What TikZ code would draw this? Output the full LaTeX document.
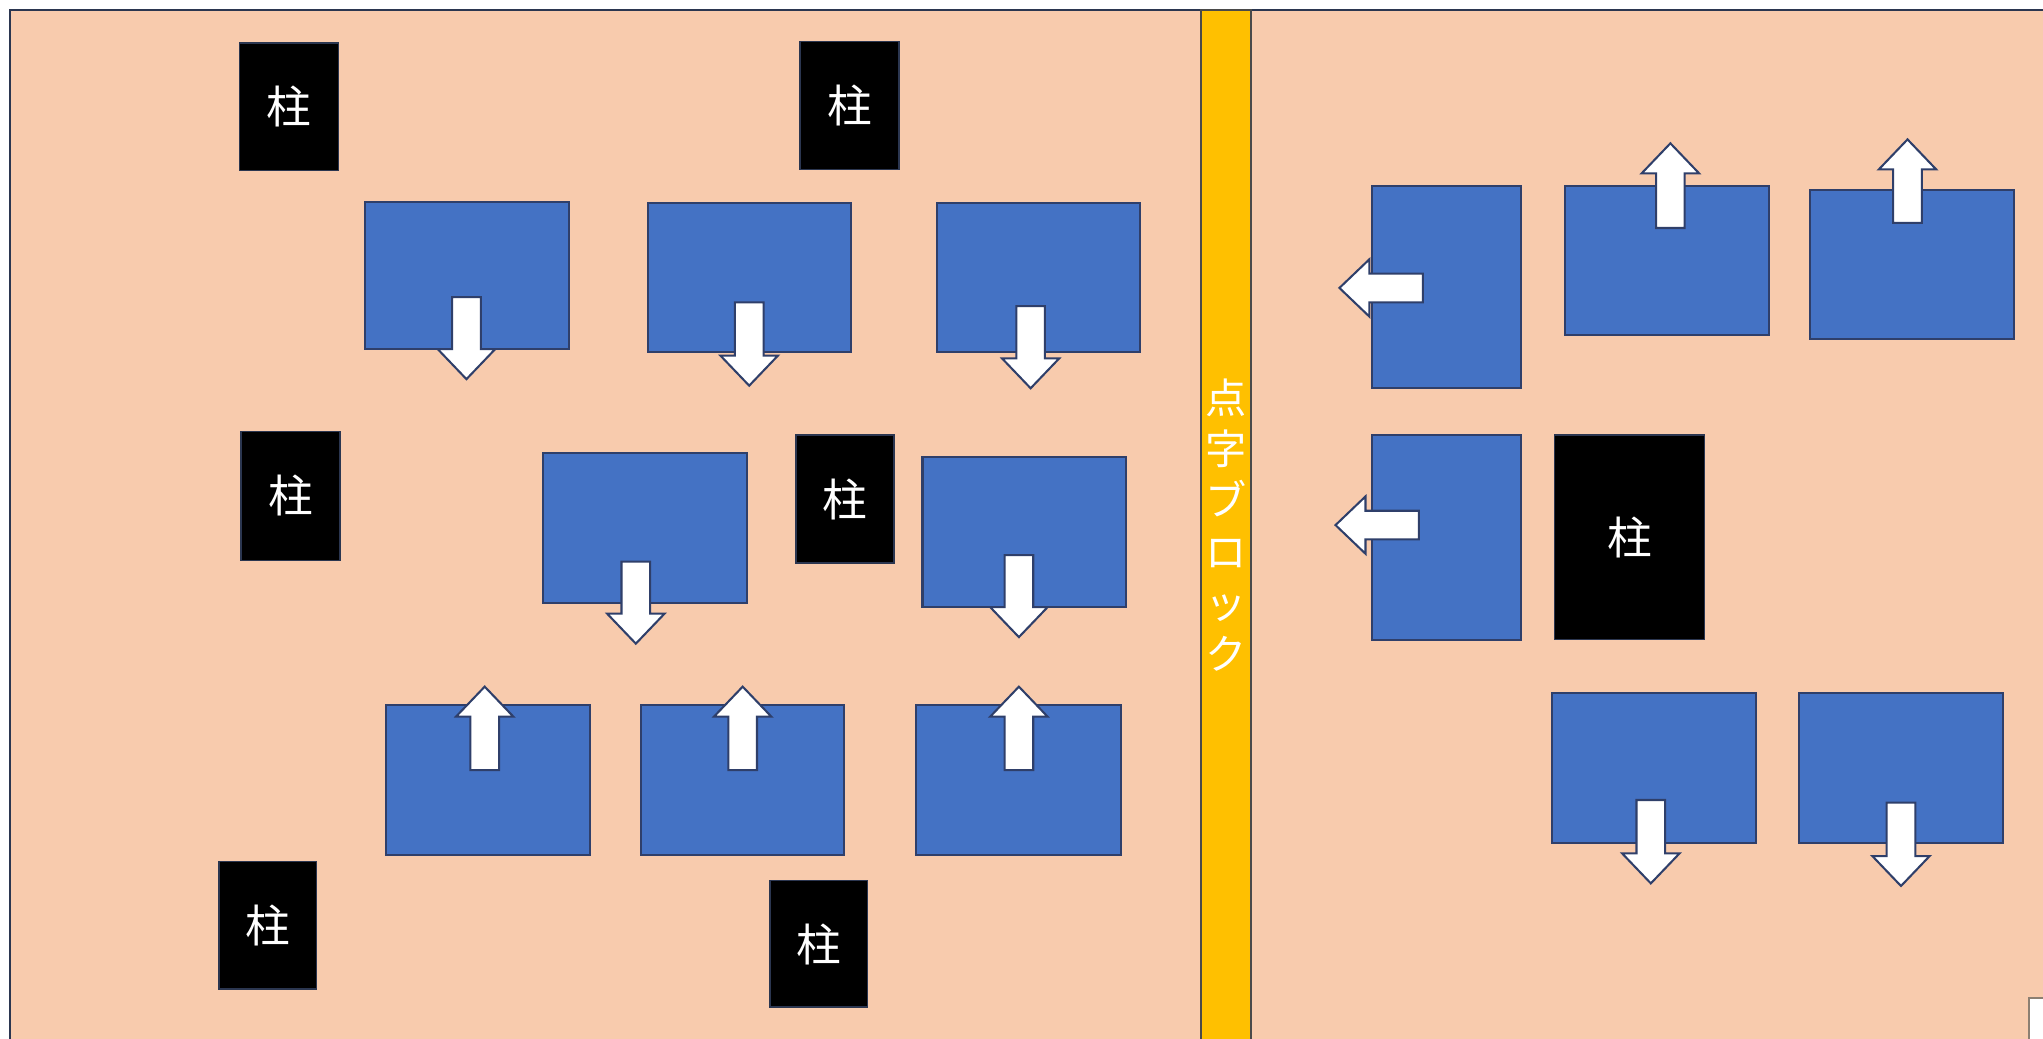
\documentclass[tikz,border=0pt]{standalone}
\usepackage{fontspec}
\newfontfamily\jpfont{Noto Sans CJK JP}
\definecolor{peach}{HTML}{F8CBAD}
\definecolor{gold}{HTML}{FFC000}
\definecolor{boxblue}{HTML}{4472C4}
\definecolor{boxedge}{HTML}{2F3F6A}
\definecolor{darkedge}{HTML}{2B3650}
\definecolor{stripedge}{HTML}{4A4A4A}
\definecolor{noteedge}{HTML}{8C7F72}
\newcommand\pxu{0.02cm}
\tikzset{
  bgpanel/.style={draw=darkedge, line width=0.9pt, fill=peach},
  stripbox/.style={draw=stripedge, line width=0.9pt, fill=gold},
  pillarbox/.style={draw=darkedge, line width=0.6pt, fill=black, text=white,
     inner sep=0pt, outer sep=0pt, font=\jpfont\fontsize{19.5}{22}\selectfont},
  bluebox/.style={draw=boxedge, line width=0.9pt, fill=boxblue, inner sep=0pt, outer sep=0pt},
  arrowshape/.style={draw=boxedge, line width=0.9pt, fill=white, line join=miter},
}
% name, x1, y1, x2, y2
\newcommand\pillarat[5]{%
  \node[pillarbox, minimum width={(#4-#2)*\pxu}, minimum height={(#5-#3)*\pxu}]
    (#1) at ({(#2+#4)/2},{(#3+#5)/2}) {柱};}
\newcommand\blueat[5]{%
  \node[bluebox, minimum width={(#4-#2)*\pxu}, minimum height={(#5-#3)*\pxu}]
    (#1) at ({(#2+#4)/2},{(#3+#5)/2}) {};}
% x, y of tail, y of tip
\newcommand\arrdown[3]{%
  \draw[arrowshape] (#1-11,#2) -- (#1+11,#2) -- (#1+11,#3-23) -- (#1+22,#3-23)
    -- (#1,#3) -- (#1-22,#3-23) -- (#1-11,#3-23) -- cycle;}
\newcommand\arrup[3]{%
  \draw[arrowshape] (#1-11,#2) -- (#1+11,#2) -- (#1+11,#3+23) -- (#1+22,#3+23)
    -- (#1,#3) -- (#1-22,#3+23) -- (#1-11,#3+23) -- cycle;}
% y, x of tail, x of tip
\newcommand\arrleft[3]{%
  \draw[arrowshape] (#2,#1-11) -- (#2,#1+11) -- (#3+23,#1+11) -- (#3+23,#1+22)
    -- (#3,#1) -- (#3+23,#1-22) -- (#3+23,#1-11) -- cycle;}
\begin{document}
\begin{tikzpicture}[x=0.02cm, y=-0.02cm]
\useasboundingbox (0,0) rectangle (1568,797);
\clip (0,0) rectangle (1568,797);
\fill[white] (0,0) rectangle (1568,797);
% panels
\path[bgpanel] (8,8) rectangle (1590,820);
\path[stripbox] (922,8) rectangle (960,820);
\node[text=white, font=\jpfont\fontsize{18}{22.3}\selectfont, align=center, inner sep=0pt]
  (strip) at (941,403) {点\\字\\ブ\\ロ\\ッ\\ク};
% pillars
\pillarat{p1}{184}{33}{260}{131}
\pillarat{p2}{614}{32}{690}{130}
\pillarat{p3}{185}{331}{261}{430}
\pillarat{p4}{611}{334}{686}{432}
\pillarat{p5}{168}{661}{243}{759}
\pillarat{p6}{591}{676}{666}{773}
\pillarat{p7}{1193}{334}{1308}{491}
% left panel boxes
\blueat{a}{280}{155}{437}{268}
\blueat{b}{497}{156}{653}{270}
\blueat{c}{719}{156}{875}{270}
\blueat{d}{417}{348}{573}{463}
\blueat{e}{708}{351}{864}{466}
\blueat{f}{296}{541}{453}{656}
\blueat{g}{492}{541}{648}{656}
\blueat{h}{703}{541}{860}{656}
% right panel boxes
\blueat{i}{1053}{143}{1167}{298}
\blueat{j}{1201}{143}{1358}{257}
\blueat{k}{1389}{146}{1546}{260}
\blueat{l}{1053}{334}{1167}{491}
\blueat{m}{1191}{532}{1348}{647}
\blueat{n}{1381}{532}{1537}{647}
% arrows
\arrdown{358}{228}{291}
\arrdown{575}{232}{296}
\arrdown{791}{235}{298}
\arrdown{488}{431}{494}
\arrdown{782}{426}{489}
\arrup{372}{591}{527}
\arrup{570}{591}{527}
\arrup{782}{591}{527}
\arrleft{221}{1092}{1028}
\arrleft{403}{1089}{1025}
\arrup{1282}{175}{110}
\arrup{1464}{171}{107}
\arrdown{1267}{614}{678}
\arrdown{1459}{616}{680}
% note box at the corner
\path[draw=noteedge, line width=0.9pt, fill=white] (1557,766) rectangle (1600,820);
\end{tikzpicture}
\end{document}
